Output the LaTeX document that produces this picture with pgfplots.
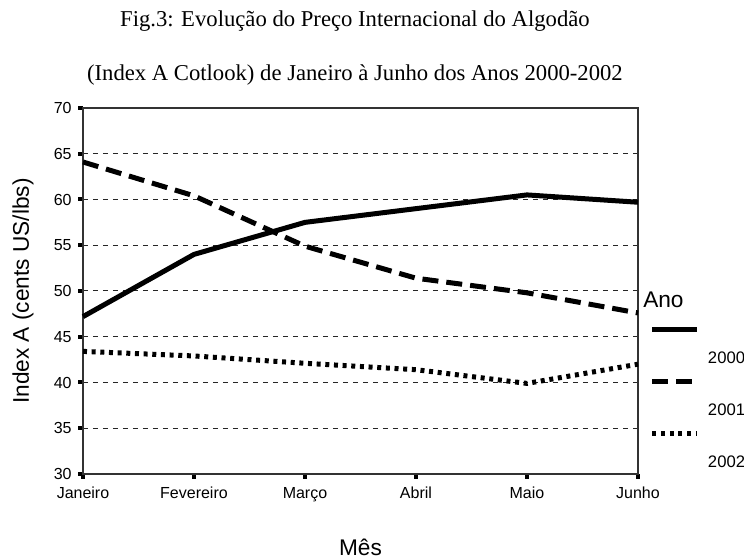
\documentclass[border=0pt]{standalone}
\usepackage{fontspec}
\setmainfont{Liberation Serif}
\newfontfamily\arial{Liberation Sans}
\usepackage{pgfplots}
\pgfplotsset{compat=1.18}
\begin{document}
\begin{tikzpicture}
\begin{axis}[
  scale only axis,
  clip=false,
  width=416.25pt, height=274.5pt,
  xmin=0, xmax=5, ymin=30, ymax=70,
  xtick={0,1,2,3,4,5},
  xticklabels={Janeiro,Fevereiro,Março,Abril,Maio,Junho},
  ytick={30,35,40,45,50,55,60,65,70},
  /pgf/number format/assume math mode=true,
  ticklabel style={font=\arial\fontsize{12}{14}\selectfont, text=black},
  xticklabel style={yshift=-3pt},
  yticklabel style={xshift=-1.5pt},
  ymajorgrids,
  grid style={dash pattern=on 3.75pt off 3.75pt, line width=0.75pt, black!85},
  axis line style={line width=1.1pt, black!80},
  tick style={line width=3pt, black},
  major tick length=3.5pt,
  tick align=outside,
  xtick pos=bottom, ytick pos=left,
  xlabel={Mês},
  xlabel style={at={(axis description cs:0.5,-0.2)}, anchor=center, font=\arial\fontsize{17}{20}\selectfont},
  ylabel={Index A (cents US/lbs)},
  ylabel style={at={(axis description cs:-0.108,0.5)}, anchor=center, rotate=0, font=\arial\fontsize{17}{20}\selectfont},
  legend style={at={(axis description cs:1.0216,0.4016)}, anchor=north west, draw=none, fill=none,
    inner sep=0pt, outer sep=0pt, row sep=9.9pt, column sep=6pt,
    font=\arial\fontsize{12.5}{14}\selectfont, nodes={inner sep=0pt}},
  legend cell align=left,
  legend image code/.code={\draw[#1] (0pt,22pt) -- (33.75pt,22pt);},
]
\addplot[black, line width=3.75pt, line join=round] coordinates {
  (0,47.2) (1,54.0) (2,57.5) (3,59.0) (4,60.5) (5,59.7)};
\addlegendentry{2000}
\addplot[black, line width=3.75pt, line join=round, dash pattern=on 12pt off 6pt] coordinates {
  (0,64.1) (1,60.4) (2,54.9) (3,51.4) (4,49.8) (5,47.6)};
\addlegendentry{2001}
\addplot[black, line width=3.75pt, line join=round, dash pattern=on 3pt off 3.5pt] coordinates {
  (0,43.4) (1,42.9) (2,42.1) (3,41.4) (4,39.9) (5,42.0)};
\addlegendentry{2002}
\node[anchor=west, inner sep=0pt, font=\arial\fontsize{17}{20}\selectfont] at (axis description cs:1.009,0.4754) {Ano};
\node[font=\fontsize{17}{20}\selectfont] at (axis description cs:0.49,1.2377) {Fig.3: Evolução do Preço Internacional do Algodão};
\node[font=\fontsize{17}{20}\selectfont] at (axis description cs:0.49,1.090) {(Index A Cotlook) de Janeiro à Junho dos Anos 2000-2002};
\end{axis}
\pgfresetboundingbox
\path (current axis.south west) ++(-62.25pt,-64.5pt) rectangle ++(558pt,420pt);
\end{tikzpicture}
\end{document}
